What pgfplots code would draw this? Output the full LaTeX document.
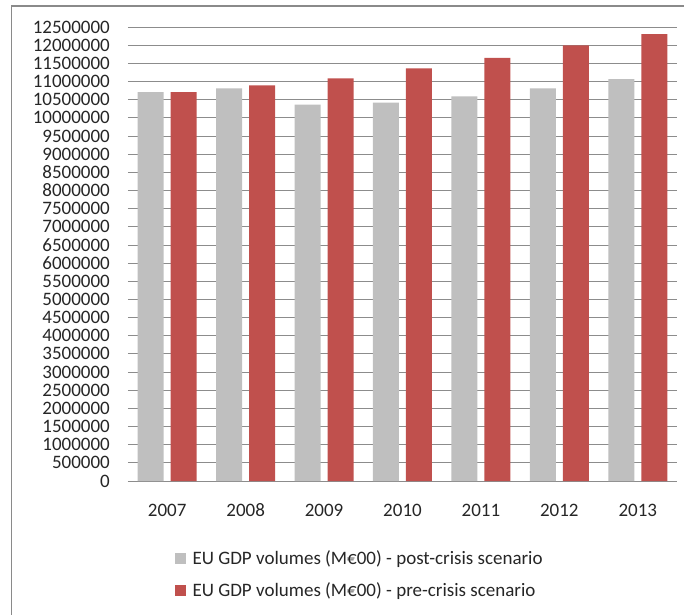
\documentclass[border=0pt]{standalone}
\usepackage{pgfplots}
\pgfplotsset{compat=1.18}
\usepackage{fontspec}
\setmainfont{Carlito}
\definecolor{postgrey}{HTML}{BFBFBF}
\definecolor{prered}{HTML}{C0504D}
\definecolor{gridgrey}{HTML}{8C8C8C}
\definecolor{framegrey}{HTML}{8A8A8A}

\begin{document}
\begin{tikzpicture}
\useasboundingbox (-128bp,-134bp) rectangle (556bp,481bp);
% outer chart frame (left and top edges)
\draw[framegrey, line width=1.6bp] (-116.5bp,-140bp) -- (-116.5bp,475bp) -- (560bp,475bp);
\begin{axis}[
  scale only axis,
  width=549bp, height=454bp,
  at={(0,0)}, anchor=south west,
  ybar=7bp, bar width=26bp,
  xmin=-0.5, xmax=6.5,
  ymin=0, ymax=12500000,
  xtick=data,
  xticklabels={2007,2008,2009,2010,2011,2012,2013},
  ytick distance=500000,
  scaled y ticks=false,
  /pgf/number format/.cd, fixed, 1000 sep={}, assume math mode=true,
  /pgfplots/.cd,
  major tick length=0pt,
  ymajorgrids,
  grid style={gridgrey, line width=0.8bp},
  axis x line*=bottom,
  axis y line*=left,
  y axis line style={draw=none},
  x axis line style={gridgrey, line width=0.8bp, -},
  tick label style={font=\fontsize{19bp}{20bp}\selectfont, text=black!85},
  yticklabel style={inner sep=0pt, xshift=-18bp},
  xticklabel style={inner sep=0pt, yshift=-23bp, text height=12bp, text depth=0pt},
  legend style={
    at={(0.079,-0.144)}, anchor=north west,
    draw=none, fill=none,
    font=\fontsize{19bp}{20bp}\selectfont,
    text=black!85,
    row sep=13bp,
    legend cell align=left,
  },
  legend image code/.code={\fill[#1] (0bp,-5.5bp) rectangle (11bp,5.5bp);
                           \path (16bp,0bp);},
]
\addplot[fill=postgrey, draw=none] coordinates {
  (0,10707000) (1,10808000) (2,10363000) (3,10418000)
  (4,10591000) (5,10808000) (6,11068000)};
\addplot[fill=prered, draw=none] coordinates {
  (0,10707000) (1,10890000) (2,11082000) (3,11363000)
  (4,11653000) (5,11991000) (6,12307000)};
\legend{EU GDP volumes (M€00) - post-crisis scenario,
        EU GDP volumes (M€00) - pre-crisis scenario}
\end{axis}
\end{tikzpicture}
\end{document}
